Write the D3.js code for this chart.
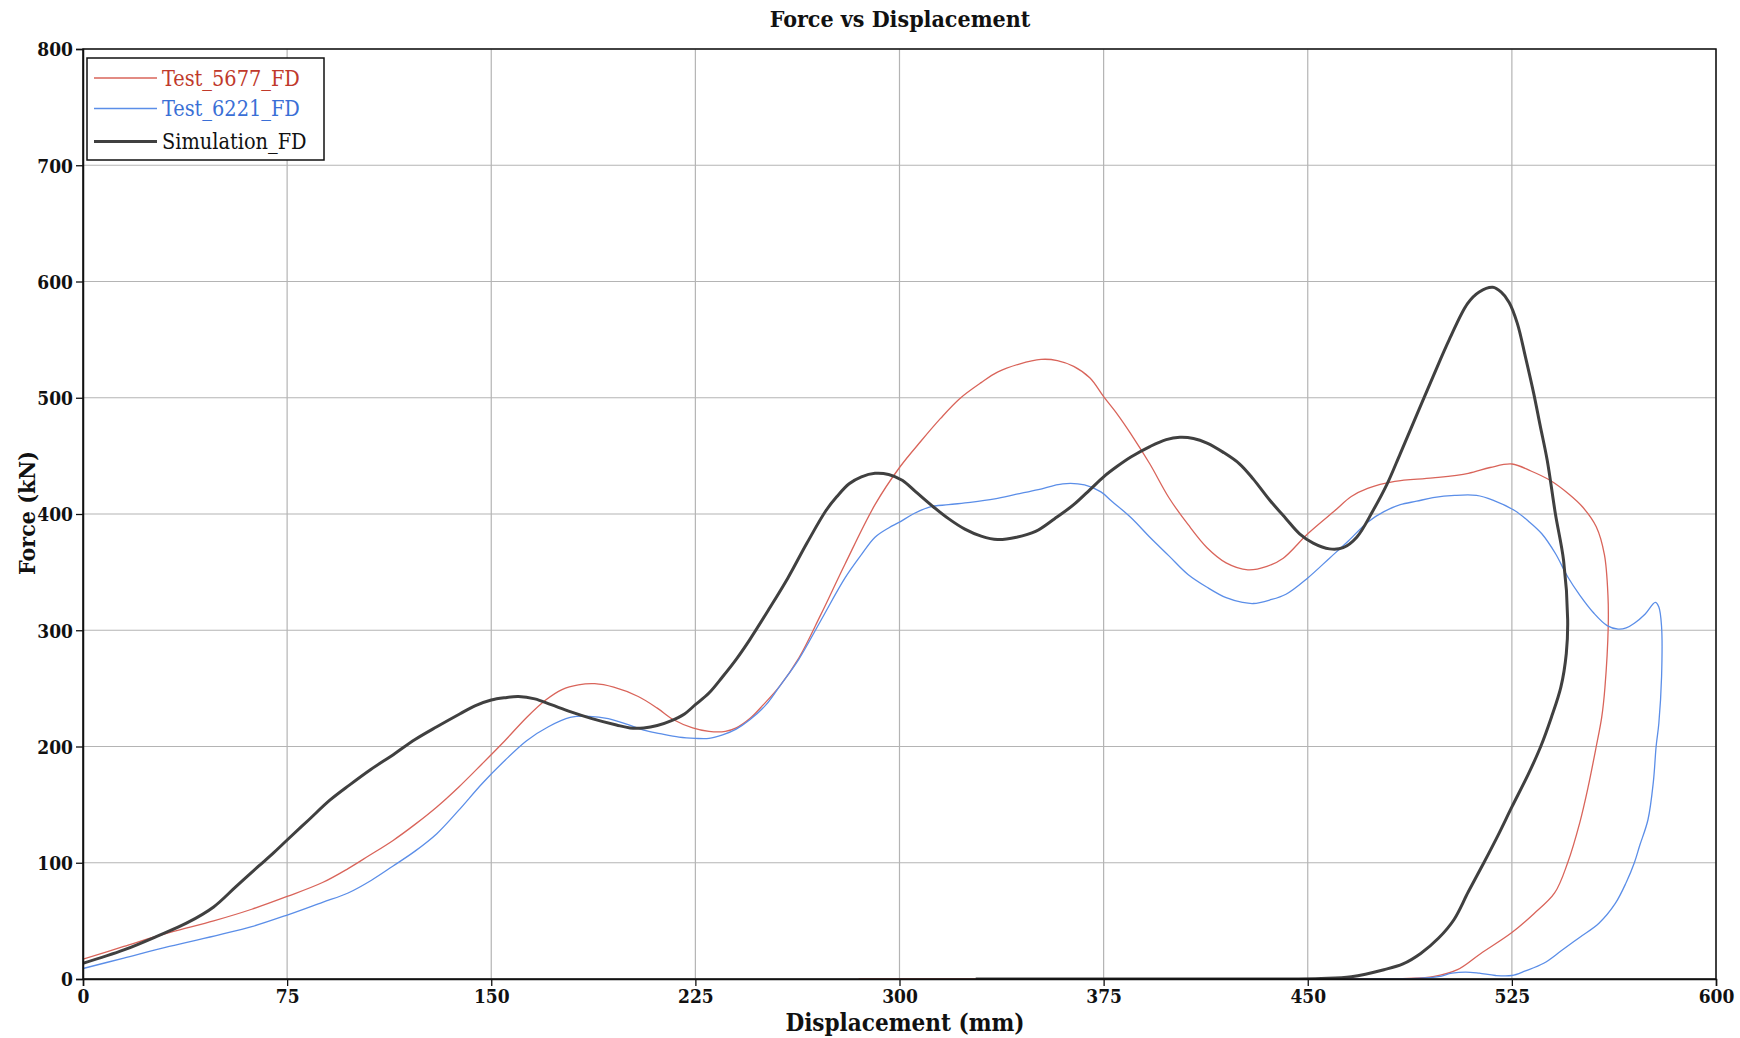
<!DOCTYPE html>
<html>
<head>
<meta charset="utf-8">
<script src="https://cdn.jsdelivr.net/npm/d3@7"></script>
<style>
  html, body { margin: 0; padding: 0; background: #fff; }
  svg text { font-family: "DejaVu Serif Condensed", "DejaVu Serif", serif; font-stretch: condensed; }
</style>
</head>
<body>
<svg id="chart" width="1740" height="1038"></svg>
<script>
// ---- data (displacement mm, force kN) ----
const xTicks = [0, 75, 150, 225, 300, 375, 450, 525, 600];
const yTicks = [0, 100, 200, 300, 400, 500, 600, 700, 800];
const seriesNames = ["Test_5677_FD", "Test_6221_FD", "Simulation_FD"];

const test5677 = [[0,17],[15,28],[31.7,40],[48,50],[62,60],[75,71],[88,83],[97.4,95],[105,106],[113.8,119],[122,133],[130,148],[138,165],[146.6,185],[155,205],[163,225],[170,240],[176,249],[182,253],[188,254],[195,251],[204,243],[211,233],[217,223],[224,216],[230,213],[236,213],[240,216],[245,224],[250,236],[256,252],[263,276],[271,313],[280,357],[291,408],[300,440],[308,463],[315,482],[322,499],[330,513],[336,522],[344,529],[352,533],[358,532],[364,527],[370,517],[375,501],[380,486],[385,469],[392,443],[399,414],[406,391],[413,371],[420,358],[428,352],[435,355],[441,362],[450,383],[460,403],[466,415],[472,422],[482,428],[496,431],[509,435],[517,440],[525,443],[532,437],[539,429],[546,417],[551,406],[556,389],[559,365],[560.3,330],[560.4,303],[559.2,251],[558,225],[556,200],[553,165],[550,135],[545.5,100],[540.7,74],[533,56],[525,40],[513.6,22],[505,8],[496,2],[487,0.5],[470,0],[400,0],[285,0]];

const test6221 = [[0,9],[15,18],[31.7,28],[50,38],[62,45],[75,55],[88,66],[97.4,74],[106,85],[113.8,97],[122,110],[130,125],[138,145],[146.6,168],[155,188],[163,205],[171,217],[179,225],[186,226],[193,224],[200,219],[206,214],[212,211],[219,208],[225,207],[230,207],[235,210],[240,215],[245,223],[251,236],[256,252],[263,275],[271,308],[280,345],[286,365],[291,380],[296,388],[300,393],[305,400],[311,406],[318,408],[326,410],[335,413],[343,417],[351,421],[360,426],[368,425],[374,419],[378,411],[385,397],[392,380],[399,364],[406,348],[413,337],[420,328],[426,324],[430,323],[436,326],[442,331],[450,345],[458,362],[465,377],[472,393],[478,402],[484,408],[490,411],[496,414],[504,416],[512,416],[518,412],[526,403],[531,394],[536,383],[541,366],[545.5,346],[550,330],[555,315],[560,304],[564,301],[567,302],[570,306],[574,314],[577.7,324],[579,320],[580,303],[580,260],[579,220],[578,200],[577,170],[575,137],[572,115],[570,100],[567,83],[563,65],[557,48],[550,36],[543,24],[536.7,13.5],[530,7],[525,3],[519,3],[513,5],[508,6],[503,5],[498,2],[490,0.5],[475,0],[455,0]];

const simulation = [[0,13.5],[15,25],[28.4,38],[38,48],[48,62],[56,79],[64.5,97],[70,108.5],[75.2,120],[83,137],[90.8,154],[98,167],[105.6,180],[114,193],[122,206],[130,217],[138.4,228],[144,235],[150,240],[155,242],[160,243],[166,241],[172,236],[179,230],[187,224],[196,218.5],[201,216],[206,216],[211,218],[216,222],[221,228],[225,236],[230,246],[235,260],[240,275],[245,292],[252,318],[259,345],[266,375],[273,403],[277,415],[281.5,426],[286,432],[291,435],[296,434],[301,429],[306,419],[312,407],[318,396],[324,387],[330,381],[336,378],[343,380],[350,385],[357,396],[364,408],[370,421],[375,432],[380,441],[385,449],[392,458],[398,464],[403,466],[408,465],[413,461],[419,453],[425,443],[430,430],[436,412],[442,396],[447,383],[452,375],[458,370],[463,371],[468,380],[474,403],[479,425],[484,452],[490,485],[496,518],[502,550],[508.7,581],[513,591],[518,595],[521,591],[524,582],[527,564],[530,535],[533,504],[535.4,476],[538,446],[541,400],[544,360],[545.5,309],[545,280],[543,251],[539.5,225],[535.6,200],[531,176],[525,148],[520,124],[514.7,100],[509,75],[503.7,51],[498,35],[491.5,22],[485,13],[478,8],[466,2],[455,0.5],[440,0],[400,0],[328,0]];

const seriesData = [test5677, test6221, simulation];
const lineColors = ["#d9645a", "#5b8ee8", "#404040"];
const textColors = ["#c0392b", "#3a6fd6", "#111111"];
const lineWidths = [1.3, 1.3, 3];

// ---- layout ----
const W = 1740, H = 1038;
const m = { left: 83, top: 49, right: 24, bottom: 59 };
const svg = d3.select("#chart");
const x = d3.scaleLinear().domain([0, 600]).range([m.left, W - m.right]);
const y = d3.scaleLinear().domain([0, 800]).range([H - m.bottom, m.top]);

// grid
const g = svg.append("g");
g.selectAll("line.vg").data(xTicks).join("line")
  .attr("x1", d => x(d)).attr("x2", d => x(d))
  .attr("y1", y(0)).attr("y2", y(800))
  .attr("stroke", "#b4b4b4").attr("stroke-width", 1.2);
g.selectAll("line.hg").data(yTicks).join("line")
  .attr("y1", d => y(d)).attr("y2", d => y(d))
  .attr("x1", x(0)).attr("x2", x(600))
  .attr("stroke", "#b4b4b4").attr("stroke-width", 1.2);

// lines
const line = d3.line().x(d => x(d[0])).y(d => y(d[1])).curve(d3.curveCatmullRom.alpha(0.5));
svg.append("clipPath").attr("id", "clip").append("rect")
  .attr("x", x(0)).attr("y", y(800)).attr("width", x(600) - x(0)).attr("height", y(0) - y(800) + 1);
seriesData.forEach((s, i) => {
  svg.append("path").datum(s)
    .attr("d", line)
    .attr("fill", "none")
    .attr("stroke", lineColors[i])
    .attr("stroke-width", lineWidths[i])
    .attr("stroke-linejoin", "round")
    .attr("clip-path", "url(#clip)");
});

// frame
svg.append("rect").attr("x", x(0)).attr("y", y(800))
  .attr("width", x(600) - x(0)).attr("height", y(0) - y(800))
  .attr("fill", "none").attr("stroke", "#111").attr("stroke-width", 1.5);

// axes
const xAxis = svg.append("g").attr("transform", `translate(0,${y(0)})`)
  .call(d3.axisBottom(x).tickValues(xTicks).tickSize(7).tickPadding(4).tickFormat(d3.format("d")));
const yAxis = svg.append("g").attr("transform", `translate(${x(0)},0)`)
  .call(d3.axisLeft(y).tickValues(yTicks).tickSize(7).tickPadding(3).tickFormat(d3.format("d")));
[xAxis, yAxis].forEach(a => {
  a.select(".domain").attr("stroke", "#111").attr("stroke-width", 1.5);
  a.selectAll(".tick line").attr("stroke", "#111").attr("stroke-width", 1.3);
  a.selectAll(".tick text")
    .attr("fill", "#111")
    .style("font-family", '"DejaVu Serif Condensed", "DejaVu Serif", serif')
    .style("font-stretch", "condensed")
    .style("font-weight", "bold").style("font-size", "19px");
});
yAxis.selectAll(".tick text").attr("dy", "0.36em");

// titles
svg.append("text").attr("x", 900).attr("y", 27).attr("text-anchor", "middle")
  .style("font-weight", "bold").style("font-size", "23px").attr("fill", "#111")
  .text("Force vs Displacement");
svg.append("text").attr("x", 905).attr("y", 1031).attr("text-anchor", "middle")
  .style("font-weight", "bold").style("font-size", "24px").attr("fill", "#111")
  .text("Displacement (mm)");
svg.append("text").attr("transform", "translate(35,513) rotate(-90)").attr("text-anchor", "middle")
  .style("font-weight", "bold").style("font-size", "23px").attr("fill", "#111")
  .text("Force (kN)");

// legend
const lg = svg.append("g");
lg.append("rect").attr("x", 87).attr("y", 58).attr("width", 237).attr("height", 102)
  .attr("fill", "#fff").attr("stroke", "#111").attr("stroke-width", 1.5);
const legY = [78, 108.5, 141.5];
seriesNames.forEach((n, i) => {
  lg.append("line").attr("x1", 94).attr("x2", 157).attr("y1", legY[i]).attr("y2", legY[i])
    .attr("stroke", lineColors[i]).attr("stroke-width", lineWidths[i]);
  lg.append("text").attr("x", 162).attr("y", legY[i]).attr("dy", "0.35em")
    .style("font-size", "21.5px").attr("fill", textColors[i]).text(n);
});
</script>
</body>
</html>
